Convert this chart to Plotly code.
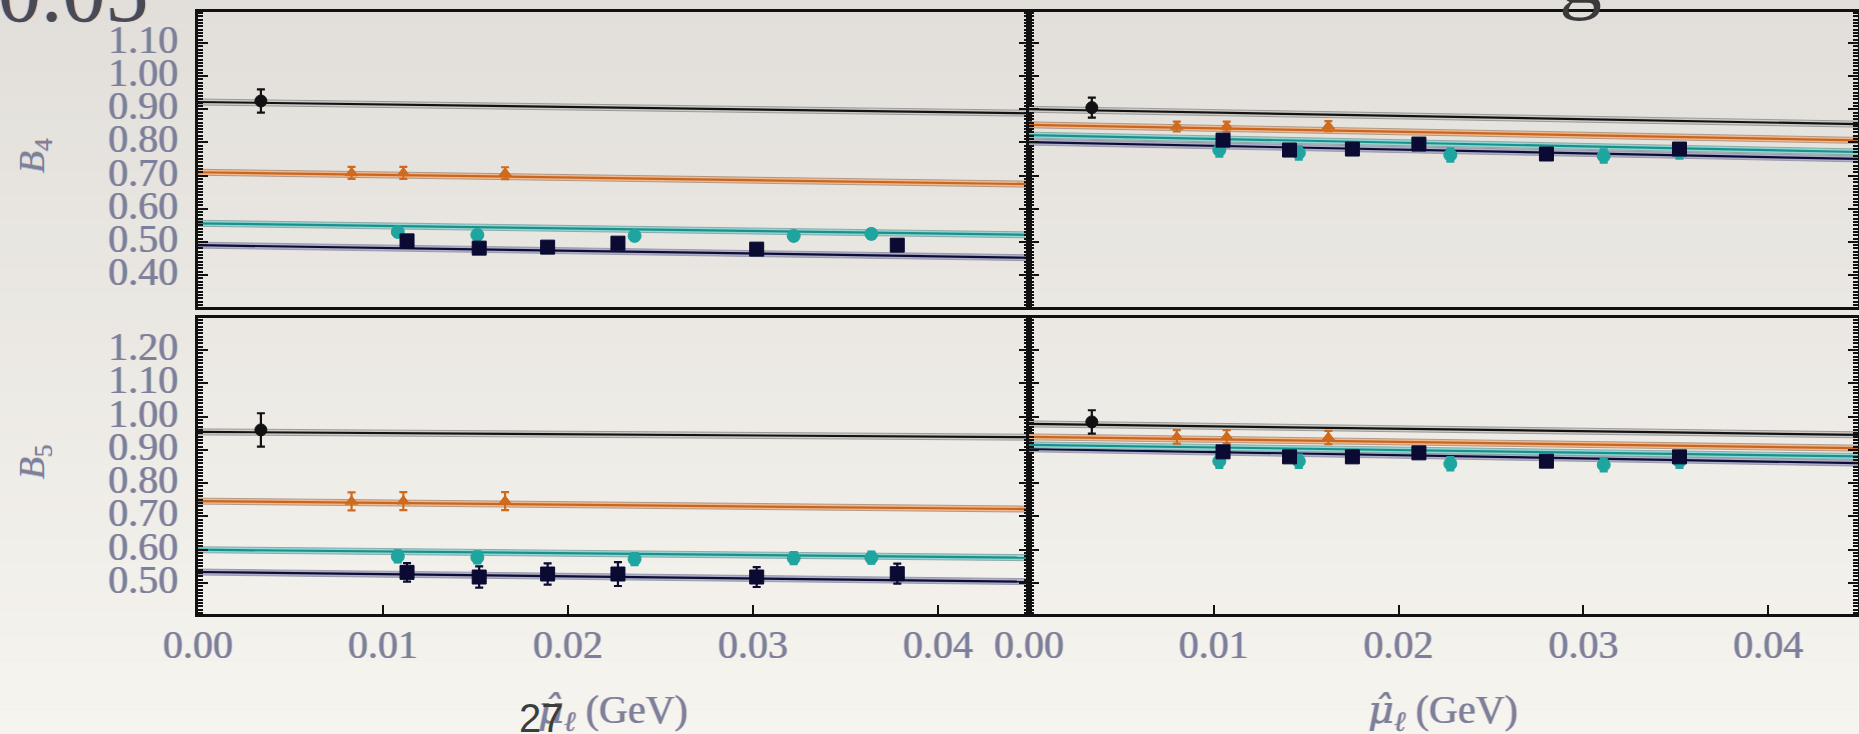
import plotly.graph_objects as go

W, H = 1859, 734

# ---------------- data ----------------
# x positions, mu_l hat in GeV
mu_black = [0.0034]
mu_orange_L = [0.0083, 0.0111, 0.0166]
mu_teal_L = [0.0108, 0.0151, 0.0236, 0.0322, 0.0364]
mu_navy_L = [0.0113, 0.0152, 0.0189, 0.0227, 0.0302, 0.0378]
mu_orange_R = [0.0080, 0.0107, 0.0162]
mu_teal_R = [0.0103, 0.0146, 0.0228, 0.0311, 0.0352]
mu_navy_R = [0.0105, 0.0141, 0.0175, 0.0211, 0.0280, 0.0352]

# B4, left panel
B4_L_black = [0.925]
B4_L_black_err = [0.035]
B4_L_orange = [0.708, 0.708, 0.707]
B4_L_orange_err = [0.018, 0.018, 0.018]
B4_L_teal = [0.530, 0.521, 0.518, 0.518, 0.524]
B4_L_teal_err = [0.014, 0.014, 0.014, 0.014, 0.014]
B4_L_navy = [0.503, 0.481, 0.484, 0.496, 0.478, 0.490]
B4_L_navy_err = [0.012, 0.014, 0.012, 0.012, 0.012, 0.012]

# B4, right panel
B4_R_black = [0.905]
B4_R_black_err = [0.03]
B4_R_orange = [0.848, 0.848, 0.849]
B4_R_orange_err = [0.015, 0.015, 0.015]
B4_R_teal = [0.777, 0.768, 0.762, 0.759, 0.771]
B4_R_teal_err = [0.02, 0.02, 0.02, 0.02, 0.02]
B4_R_navy = [0.807, 0.777, 0.780, 0.795, 0.765, 0.780]
B4_R_navy_err = [0.012, 0.012, 0.012, 0.012, 0.012, 0.012]

# B5, left panel
B5_L_black = [0.960]
B5_L_black_err = [0.05]
B5_L_orange = [0.745, 0.746, 0.746]
B5_L_orange_err = [0.027, 0.027, 0.027]
B5_L_teal = [0.580, 0.577, 0.572, 0.575, 0.576]
B5_L_teal_err = [0.018, 0.018, 0.018, 0.018, 0.018]
B5_L_navy = [0.532, 0.518, 0.527, 0.527, 0.518, 0.528]
B5_L_navy_err = [0.028, 0.032, 0.032, 0.036, 0.030, 0.030]

# B5, right panel
B5_R_black = [0.984]
B5_R_black_err = [0.035]
B5_R_orange = [0.939, 0.939, 0.937]
B5_R_orange_err = [0.02, 0.02, 0.02]
B5_R_teal = [0.866, 0.866, 0.858, 0.855, 0.866]
B5_R_teal_err = [0.02, 0.02, 0.02, 0.02, 0.02]
B5_R_navy = [0.894, 0.879, 0.879, 0.891, 0.866, 0.879]
B5_R_navy_err = [0.015, 0.015, 0.015, 0.015, 0.015, 0.015]

# chiral fit lines: value at the two ends of the mu range
fit_mu = [0.0, 0.045]
fit_band = 0.009
B4_L_fit_black = [0.922, 0.888]
B4_L_fit_orange = [0.710, 0.674]
B4_L_fit_teal = [0.556, 0.521]
B4_L_fit_navy = [0.490, 0.452]
B4_R_fit_black = [0.900, 0.855]
B4_R_fit_orange = [0.853, 0.806]
B4_R_fit_teal = [0.822, 0.771]
B4_R_fit_navy = [0.801, 0.750]
B5_L_fit_black = [0.954, 0.938]
B5_L_fit_orange = [0.746, 0.722]
B5_L_fit_teal = [0.600, 0.576]
B5_L_fit_navy = [0.533, 0.504]
B5_R_fit_black = [0.978, 0.945]
B5_R_fit_orange = [0.939, 0.905]
B5_R_fit_teal = [0.915, 0.880]
B5_R_fit_navy = [0.903, 0.860]

x_ticks = [0.00, 0.01, 0.02, 0.03, 0.04]
x_tick_text = ["0.00", "0.01", "0.02", "0.03", "0.04"]
y_ticks_B4 = [0.40, 0.50, 0.60, 0.70, 0.80, 0.90, 1.00, 1.10]
y_ticks_B5 = [0.50, 0.60, 0.70, 0.80, 0.90, 1.00, 1.10, 1.20]

# ---------------- styles ----------------
STY = {
    "black": dict(line="#121212", band="#cdcbc6", edge="#8a8a8a", marker="circle", size=12, mc="#111111"),
    "orange": dict(line="#c9651f", band="#f2b98e", edge="#a08a7a", marker="triangle-up", size=11, mc="#d06a1c"),
    "teal": dict(line="#16918d", band="#95d6d2", edge="#7f9c9a", marker="circle", size=13, mc="#1fa5a0"),
    "navy": dict(line="#0c0c38", band="#aeaec6", edge="#8e8ea2", marker="square", size=14, mc="#0a0a33"),
}
TXT = "#7c809c"
SHADOW = "1px 0px 0px rgba(205,130,60,0.35), -1px 0px 0px rgba(60,110,210,0.35)"
FONT = "Liberation Serif"

fig = go.Figure()


def add_fit(xa, ya, vals, key):
    s = STY[key]
    xs = [fit_mu[0], fit_mu[1], fit_mu[1], fit_mu[0], fit_mu[0]]
    ys = [vals[0] + fit_band, vals[1] + fit_band, vals[1] - fit_band,
          vals[0] - fit_band, vals[0] + fit_band]
    fig.add_trace(go.Scatter(x=xs, y=ys, xaxis=xa, yaxis=ya, mode="lines", fill="toself",
                             fillcolor=s["band"], line=dict(color=s["edge"], width=0.8),
                             hoverinfo="skip", showlegend=False))
    fig.add_trace(go.Scatter(x=fit_mu, y=vals, xaxis=xa, yaxis=ya, mode="lines",
                             line=dict(color=s["line"], width=2.2),
                             hoverinfo="skip", showlegend=False))


def add_pts(xa, ya, xs, ys, err, key):
    s = STY[key]
    fig.add_trace(go.Scatter(x=xs, y=ys, xaxis=xa, yaxis=ya, mode="markers",
                             marker=dict(symbol=s["marker"], size=s["size"], color=s["mc"],
                                         line=dict(color=s["mc"], width=1)),
                             error_y=dict(type="data", array=err, color=s["mc"],
                                          thickness=2.2, width=4),
                             showlegend=False))


panels = [
    ("x", "y", mu_orange_L, mu_teal_L, mu_navy_L,
     B4_L_black, B4_L_black_err, B4_L_orange, B4_L_orange_err, B4_L_teal, B4_L_teal_err,
     B4_L_navy, B4_L_navy_err, B4_L_fit_black, B4_L_fit_orange, B4_L_fit_teal, B4_L_fit_navy),
    ("x2", "y2", mu_orange_R, mu_teal_R, mu_navy_R,
     B4_R_black, B4_R_black_err, B4_R_orange, B4_R_orange_err, B4_R_teal, B4_R_teal_err,
     B4_R_navy, B4_R_navy_err, B4_R_fit_black, B4_R_fit_orange, B4_R_fit_teal, B4_R_fit_navy),
    ("x3", "y3", mu_orange_L, mu_teal_L, mu_navy_L,
     B5_L_black, B5_L_black_err, B5_L_orange, B5_L_orange_err, B5_L_teal, B5_L_teal_err,
     B5_L_navy, B5_L_navy_err, B5_L_fit_black, B5_L_fit_orange, B5_L_fit_teal, B5_L_fit_navy),
    ("x4", "y4", mu_orange_R, mu_teal_R, mu_navy_R,
     B5_R_black, B5_R_black_err, B5_R_orange, B5_R_orange_err, B5_R_teal, B5_R_teal_err,
     B5_R_navy, B5_R_navy_err, B5_R_fit_black, B5_R_fit_orange, B5_R_fit_teal, B5_R_fit_navy),
]

for (xa, ya, mo, mt, mn, bk, bke, orv, ore, te, tee, nv, nve, fb, fo, ft, fn) in panels:
    add_fit(xa, ya, fn, "navy")
    add_fit(xa, ya, ft, "teal")
    add_fit(xa, ya, fo, "orange")
    add_fit(xa, ya, fb, "black")
    add_pts(xa, ya, mu_black, bk, bke, "black")
    add_pts(xa, ya, mo, orv, ore, "orange")
    add_pts(xa, ya, mt, te, tee, "teal")
    add_pts(xa, ya, mn, nv, nve, "navy")

# ---------------- layout ----------------
XL = [198 / W, 1029 / W]
XR = [1029 / W, 1858 / W]
YT = [1 - 307 / H, 1 - 12 / H]
YB = [1 - 614 / H, 1 - 318 / H]

tickfont = dict(family=FONT, size=40, color=TXT, shadow=SHADOW)


def xaxis(domain, anchor, rng, bottom):
    d = dict(domain=domain, anchor=anchor, range=rng, showgrid=False, zeroline=False,
             showline=True, linecolor="#111111", linewidth=2.5, mirror=True,
             fixedrange=True, automargin=False)
    if bottom:
        d.update(ticks="inside", ticklen=9, tickwidth=2, tickcolor="#111111",
                 tickvals=x_ticks, ticktext=x_tick_text, showticklabels=True,
                 tickfont=tickfont, ticklabelstandoff=-7)
    else:
        d.update(ticks="", showticklabels=False)
    return d


def yaxis(domain, anchor, rng, tv, labels):
    d = dict(domain=domain, anchor=anchor, range=rng, showgrid=False, zeroline=False,
             showline=True, linecolor="#111111", linewidth=2.5, mirror="ticks",
             ticks="inside", ticklen=10, tickwidth=2, tickcolor="#111111",
             tickvals=tv, tickformat=".2f", fixedrange=True, automargin=False,
             minor=dict(ticks="inside", ticklen=5, tickwidth=1.5, tickcolor="#111111",
                        dtick=0.01, tick0=0, showgrid=False))
    if labels:
        d.update(showticklabels=True, tickfont=tickfont, ticklabelstandoff=9,
                 ticklabelshift=-4)
    else:
        d.update(showticklabels=False)
    return d


rngB4 = [0.3034, 1.1935]
rngB5 = [0.4069, 1.2961]

# background gradient of the slide
shapes = []
nb = 30
c0 = (226, 223, 218)
c1 = (246, 244, 239)
for i in range(nb):
    t = i / (nb - 1)
    c = tuple(int(round(c0[k] + (c1[k] - c0[k]) * t)) for k in range(3))
    shapes.append(dict(type="rect", xref="paper", yref="paper", x0=0, x1=1,
                       y0=1 - (i + 1) / nb, y1=1 - i / nb, layer="below",
                       line=dict(width=0), fillcolor="rgb(%d,%d,%d)" % c))

lab_font = dict(family=FONT, size=40, color=TXT, shadow=SHADOW)
mu_hat = '<span style="font-family:DejaVu Serif;font-style:italic">μ̂</span>'
xlabel = mu_hat + "<sub><i>ℓ</i></sub> (GeV)"


def ann(text, px, py, font, xanchor="center", yanchor="middle", angle=0):
    return dict(text=text, x=px / W, y=1 - py / H, xref="paper", yref="paper",
                xanchor=xanchor, yanchor=yanchor, textangle=angle, showarrow=False,
                font=font)


bfont = dict(family=FONT, size=36, color=TXT, shadow=SHADOW)
annotations = [
    ann("<i>B</i><sub>4</sub>", 34, 156, bfont, angle=-90),
    ann("<i>B</i><sub>5</sub>", 34, 462, bfont, angle=-90),
    ann(xlabel, 613, 711, lab_font),
    ann(xlabel, 1443, 711, lab_font),
    ann("27", 541, 718, dict(family="Liberation Sans", size=40, color="#3c3c3c")),
    ann("0.05", -4, -58, dict(family=FONT, size=86, color="#4a4a55", shadow=SHADOW),
        xanchor="left", yanchor="top"),
    ann("g", 1580, -27, dict(family=FONT, size=86, color="#3a3a3a")),
]

fig.update_layout(
    template="none",
    width=W, height=H, margin=dict(l=0, r=0, t=0, b=0, autoexpand=False),
    paper_bgcolor="rgb(236,233,228)", plot_bgcolor="rgba(0,0,0,0)",
    showlegend=False,
    xaxis=xaxis(XL, "y", [0, 0.04492], False),
    xaxis2=xaxis(XR, "y2", [0, 0.04486], False),
    xaxis3=xaxis(XL, "y3", [0, 0.04492], True),
    xaxis4=xaxis(XR, "y4", [0, 0.04486], True),
    yaxis=yaxis(YT, "x", rngB4, y_ticks_B4, True),
    yaxis2=yaxis(YT, "x2", rngB4, y_ticks_B4, False),
    yaxis3=yaxis(YB, "x3", rngB5, y_ticks_B5, True),
    yaxis4=yaxis(YB, "x4", rngB5, y_ticks_B5, False),
    shapes=shapes,
    annotations=annotations,
)

fig.write_html("out.html")
